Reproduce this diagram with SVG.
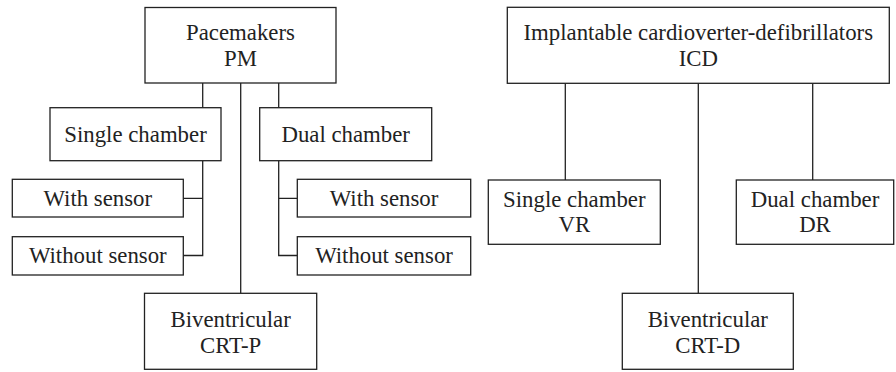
<svg xmlns="http://www.w3.org/2000/svg" width="896" height="372" viewBox="0 0 896 372">
<style>
rect{fill:#fff;stroke:#222;stroke-width:1.3}
line,path{fill:none;stroke:#222;stroke-width:1.3}
text{font-family:"Liberation Serif","Times New Roman",serif;font-size:22.8px;fill:#222;text-anchor:middle}
</style>
<rect x="0" y="0" width="896" height="372" style="stroke:none"/>
<g id="connectors">
<line x1="202.7" y1="83" x2="202.7" y2="108"/>
<line x1="240.7" y1="83" x2="240.7" y2="293.3"/>
<line x1="278.7" y1="83" x2="278.7" y2="108"/>
<path d="M202.7 161V255.5H183M202.7 198.3H183"/>
<path d="M278.7 161V255.5H297.3M278.7 198.3H297.3"/>
<line x1="565.3" y1="83.3" x2="565.3" y2="180"/>
<line x1="698.3" y1="83.3" x2="698.3" y2="293.3"/>
<line x1="812.7" y1="83.3" x2="812.7" y2="180"/>
</g>
<g id="pm"><rect x="145" y="7.5" width="191" height="75.5"/><text x="240.5" y="40">Pacemakers</text><text x="240.5" y="66">PM</text></g>
<g id="pm-single"><rect x="50" y="107.7" width="171" height="53"/><text x="135.5" y="142">Single chamber</text></g>
<g id="pm-dual"><rect x="259.7" y="107.7" width="172" height="53"/><text x="345.7" y="142">Dual chamber</text></g>
<g id="pm-single-with"><rect x="12.3" y="179.3" width="171" height="37.7"/><text x="97.8" y="205.5">With sensor</text></g>
<g id="pm-single-without"><rect x="12.3" y="236.7" width="171" height="38.3"/><text x="97.8" y="262.5">Without sensor</text></g>
<g id="pm-dual-with"><rect x="297.3" y="179.3" width="173.4" height="37.7"/><text x="384" y="205.5">With sensor</text></g>
<g id="pm-dual-without"><rect x="297.3" y="236.7" width="173.4" height="38.3"/><text x="384" y="262.5">Without sensor</text></g>
<g id="crt-p"><rect x="144.5" y="293.3" width="172.2" height="76"/><text x="230.6" y="327">Biventricular</text><text x="230.6" y="352.5">CRT-P</text></g>
<g id="icd"><rect x="507.3" y="7.3" width="382" height="76"/><text x="698.3" y="40">Implantable cardioverter-defibrillators</text><text x="698.3" y="66">ICD</text></g>
<g id="icd-vr"><rect x="488.3" y="180" width="172" height="64.3"/><text x="574.3" y="207">Single chamber</text><text x="574.3" y="232">VR</text></g>
<g id="icd-dr"><rect x="736.3" y="180" width="157.4" height="64.3"/><text x="815" y="207">Dual chamber</text><text x="815" y="232">DR</text></g>
<g id="crt-d"><rect x="622.3" y="293.3" width="171" height="76"/><text x="707.8" y="327">Biventricular</text><text x="707.8" y="352.5">CRT-D</text></g>
</svg>
